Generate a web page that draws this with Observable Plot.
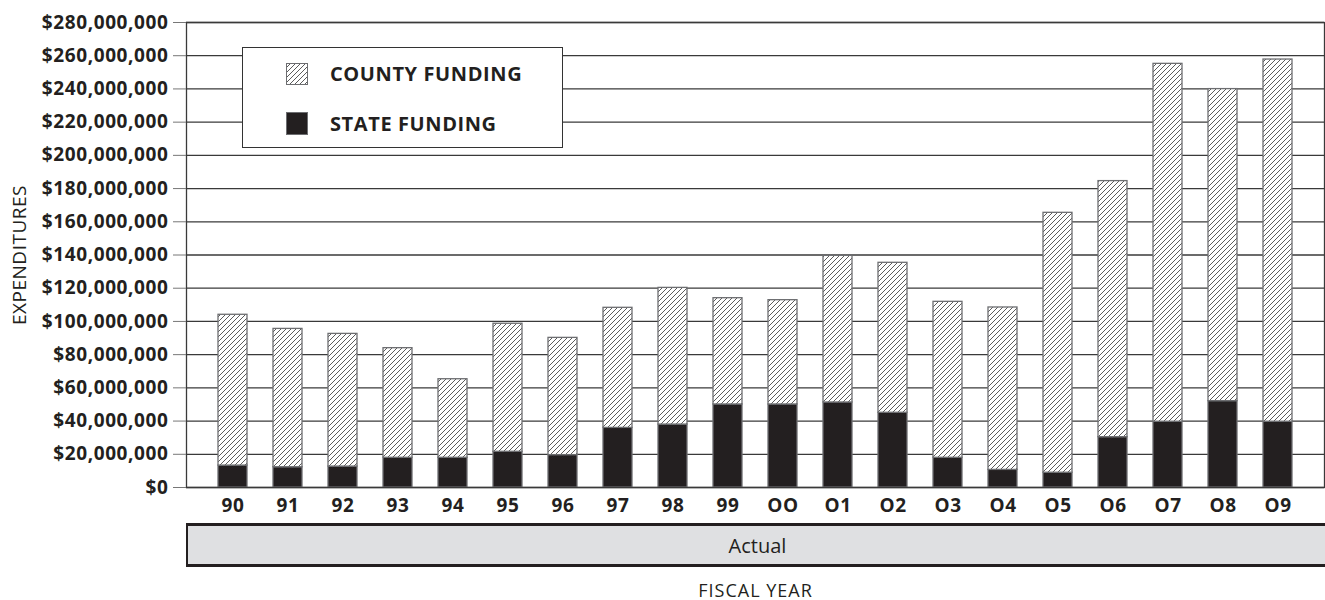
<!DOCTYPE html>
<html>
<head>
<meta charset="utf-8">
<script src="https://cdn.jsdelivr.net/npm/d3@7"></script>
<script src="https://cdn.jsdelivr.net/npm/@observablehq/plot@0.6"></script>
<style>
  body { margin: 0; background: #fff; font-family: "Open Sans", sans-serif; }
  #wrap { position: relative; width: 1325px; height: 600px; }
  #legend { position: absolute; left: 242px; top: 47px; width: 319px; height: 99px; border: 1.5px solid #333; background: #fff; }
  .lg-row { position: absolute; left: 43px; height: 23px; display: flex; align-items: center; }
  .lg-row span { margin-left: 22px; font-weight: 700; font-size: 20px; color: #231f20; letter-spacing: 0.6px; white-space: nowrap; }
  #actual { position: absolute; left: 186px; top: 523px; width: 1139px; height: 38px; background: #dfe0e2; border-top: 3px solid #231f20; border-bottom: 3px solid #231f20; border-left: 2px solid #231f20; box-sizing: content-box; display: flex; align-items: center; justify-content: center; font-size: 20px; color: #231f20; }
  #xlabel { position: absolute; left: 186px; width: 1139px; top: 581px; height: 18px; line-height: 18px; text-align: center; font-size: 18px; letter-spacing: 1px; color: #231f20; }
</style>
</head>
<body>
<svg width="0" height="0" style="position:absolute">
  <defs>
    <pattern id="hatch" patternUnits="userSpaceOnUse" width="5" height="5">
      <rect width="5" height="5" fill="#fff"/>
      <path d="M0,5 L5,0 M-1,1 L1,-1 M4,6 L6,4" stroke="#4a4a4a" stroke-width="0.9"/>
    </pattern>
  </defs>
</svg>
<div id="wrap">
  <div id="chart"></div>
  <div id="legend">
    <div class="lg-row" style="top:14px"><svg width="22" height="22"><rect x="0.5" y="0.5" width="21" height="21" fill="url(#hatch)" stroke="#6d6e71"/></svg><span>COUNTY FUNDING</span></div>
    <div class="lg-row" style="top:64px"><svg width="22" height="23"><rect x="0.5" y="0.5" width="21" height="22" fill="#231f20" stroke="#6d6e71"/></svg><span>STATE FUNDING</span></div>
  </div>
  <div id="actual">Actual</div>
  <div id="xlabel">FISCAL YEAR</div>
</div>
<script>
const years = ["90","91","92","93","94","95","96","97","98","99","OO","O1","O2","O3","O4","O5","O6","O7","O8","O9"];
const totalFunding = [104.0,95.5,92.5,83.9,65.2,98.6,90.1,108.2,120.2,114.0,112.8,139.5,135.3,111.8,108.4,165.4,184.5,255.1,239.9,257.7].map(d => d * 1e6);
const stateFunding = [13.2,12.2,12.6,17.9,17.9,21.5,19.5,35.9,37.9,50.0,50.0,51.2,45.0,17.9,10.6,8.9,30.3,39.6,52.0,39.6].map(d => d * 1e6);
const countyFunding = totalFunding.map((t, i) => t - stateFunding[i]);
const yTicks = d3.range(0, 280e6 + 1, 20e6);

const rows = years.map((y, i) => ({year: y, state: stateFunding[i], county: countyFunding[i], total: stateFunding[i] + countyFunding[i]}));

const chart = Plot.plot({
  width: 1325,
  height: 520,
  marginLeft: 186,
  marginRight: 1,
  marginTop: 22,
  marginBottom: 33,
  style: {fontFamily: "Open Sans, sans-serif", color: "#231f20", background: "transparent"},
  x: {domain: years, padding: 0.47, label: null},
  y: {domain: [0, 280e6], label: null},
  marks: [
    Plot.ruleY(yTicks, {stroke: "#3a3a3a", strokeWidth: 1.3}),
    Plot.barY(rows, {x: "year", y1: 0, y2: "state", fill: "#231f20", stroke: "#6d6e71", strokeWidth: 1.3}),
    Plot.barY(rows, {x: "year", y1: "state", y2: "total", fill: "url(#hatch)", stroke: "#6d6e71", strokeWidth: 1.3}),
    Plot.ruleX([0], {frameAnchor: "left", stroke: "#231f20", strokeWidth: 1.6}),
    Plot.frame({stroke: "#3a3a3a", strokeWidth: 1.3}),
    Plot.axisY({ticks: yTicks, tickFormat: d => "$" + d3.format(",")(d), tickSize: 13, tickPadding: 5, fontSize: 19, fontWeight: 700, stroke: "#777", label: null}),
    Plot.axisX({tickSize: 0, tickPadding: 11, fontSize: 19, fontWeight: 700, label: null}),
    Plot.text(["EXPENDITURES"], {frameAnchor: "left", dx: -167, rotate: -90, textAnchor: "middle", fontSize: 19, text: d => d, fill: "#231f20"})
  ]
});
chart.querySelectorAll("g[aria-label='y-axis tick label'] text, g[aria-label='x-axis tick label'] text").forEach(t => t.setAttribute("letter-spacing", "0.6"));
chart.querySelectorAll("g[aria-label='text'] text").forEach(t => t.setAttribute("letter-spacing", "0.5"));
document.getElementById("chart").appendChild(chart);
</script>
</body>
</html>
